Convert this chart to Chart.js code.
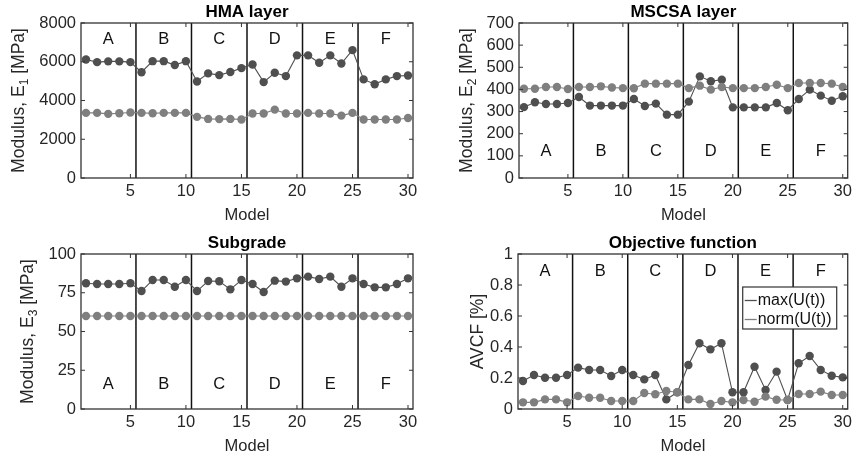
<!DOCTYPE html>
<html><head><meta charset="utf-8">
<script src="https://cdn.jsdelivr.net/npm/chart.js@4/dist/chart.umd.min.js"></script>
<style>
html,body{margin:0;padding:0;background:#fff;width:856px;height:461px;overflow:hidden}
.p{position:absolute}
canvas{display:block}
</style></head><body>
<div class="p" style="left:0;top:0"><canvas id="c1" width="428" height="230"></canvas></div>
<div class="p" style="left:430px;top:0"><canvas id="c2" width="426" height="230"></canvas></div>
<div class="p" style="left:0;top:231px"><canvas id="c3" width="428" height="230"></canvas></div>
<div class="p" style="left:430px;top:231px"><canvas id="c4" width="426" height="230"></canvas></div>
<script>
// ---------- data ----------
const models = [1,2,3,4,5,6,7,8,9,10,11,12,13,14,15,16,17,18,19,20,21,22,23,24,25,26,27,28,29,30];
const groupLabels = ['A','B','C','D','E','F'];
const groupCenters = [3,8,13,18,23,28];
const groupBounds = [5.5,10.5,15.5,20.5,25.5];
const xTicks = [5,10,15,20,25,30];

const hmaTicks = [0,2000,4000,6000,8000];
const hmaMax  = [6120,5980,6020,6020,5980,5460,6030,6030,5830,6030,4980,5400,5310,5470,5670,5860,4950,5430,5260,6330,6330,5950,6330,5910,6600,5090,4840,5090,5260,5290];
const hmaNorm = [3360,3360,3310,3340,3380,3360,3340,3360,3360,3360,3155,3050,3040,3050,3020,3330,3330,3530,3330,3330,3360,3330,3330,3220,3360,3020,3020,3020,3020,3100];

const mscsaTicks = [0,100,200,300,400,500,600,700];
const mscsaMax  = [320,342,334,334,339,366,327,327,327,327,357,325,336,286,286,345,459,437,444,319,319,319,319,339,306,357,399,372,349,369];
const mscsaNorm = [403,403,411,411,402,411,411,414,409,406,405,426,426,426,426,406,417,399,411,406,406,406,411,421,406,429,429,429,426,411];

const subTicks = [0,25,50,75,100];
const subMax  = [81.1,80.6,80.6,80.6,81.1,76.1,83.2,83.2,78.9,83.2,76.1,82.6,82.4,77.2,83.2,80.6,75.5,82.8,82.2,84.3,85.4,83.9,85.4,78.9,84.3,80.6,78.5,78.5,80.6,84.3];
const subNorm = [60,60,60,60,60,60,60,60,60,60,60,60,60,60,60,60,60,60,60,60,60,60,60,60,60,60,60,60,60,60];

const avcfTicks = [0,0.2,0.4,0.6,0.8,1];
const avcfMax  = [0.181,0.219,0.202,0.202,0.219,0.267,0.252,0.252,0.213,0.252,0.219,0.191,0.219,0.062,0.108,0.284,0.424,0.385,0.424,0.108,0.108,0.273,0.123,0.241,0.058,0.295,0.342,0.252,0.215,0.204];
const avcfNorm = [0.043,0.043,0.062,0.062,0.043,0.084,0.073,0.073,0.052,0.052,0.052,0.103,0.095,0.116,0.108,0.062,0.062,0.032,0.052,0.043,0.058,0.047,0.080,0.060,0.058,0.097,0.097,0.112,0.090,0.090];

const seriesNames = ['max(U(t))','norm(U(t))'];

// ---------- styles ----------
const FONT = '"Liberation Sans", Arial, Helvetica, sans-serif';
const TXT = '#262626';
const DARK = '#4f4f4f';
const LIGHT = '#7f7f7f';

const deco = {
  id: 'deco',
  beforeDatasetsDraw(chart, args, o) {
    const {ctx, chartArea: a, scales: {x, y}} = chart;
    ctx.save();
    ctx.strokeStyle = '#111';
    ctx.lineWidth = 1.5;
    groupBounds.forEach(b => {
      const px = x.getPixelForValue(b);
      ctx.beginPath(); ctx.moveTo(px, a.top); ctx.lineTo(px, a.bottom); ctx.stroke();
    });
    ctx.fillStyle = '#111';
    ctx.font = '16.5px ' + FONT;
    ctx.textAlign = 'center'; ctx.textBaseline = 'middle';
    groupLabels.forEach((g, i) => ctx.fillText(g, x.getPixelForValue(groupCenters[i]), y.getPixelForValue(o.labelY)));
    ctx.restore();
  },
  afterDraw(chart, args, o) {
    const {ctx, chartArea: a, scales: {x, y}} = chart;
    ctx.save();
    // box
    ctx.strokeStyle = '#333'; ctx.lineWidth = 1.3;
    ctx.strokeRect(a.left, a.top, a.right - a.left, a.bottom - a.top);
    // inner ticks
    ctx.lineWidth = 1;
    const tl = 4;
    xTicks.forEach(v => {
      const px = x.getPixelForValue(v);
      ctx.beginPath();
      ctx.moveTo(px, a.bottom); ctx.lineTo(px, a.bottom - tl);
      ctx.moveTo(px, a.top); ctx.lineTo(px, a.top + tl);
      ctx.stroke();
    });
    o.yTicks.forEach(v => {
      const py = y.getPixelForValue(v);
      ctx.beginPath();
      ctx.moveTo(a.left, py); ctx.lineTo(a.left + tl, py);
      ctx.moveTo(a.right, py); ctx.lineTo(a.right - tl, py);
      ctx.stroke();
    });
    // title
    ctx.fillStyle = '#000';
    ctx.font = 'bold 17px ' + FONT;
    ctx.textAlign = 'center'; ctx.textBaseline = 'middle';
    ctx.fillText(o.title, (a.left + a.right) / 2, a.top - 10.5);
    // y title with optional subscript
    ctx.fillStyle = TXT;
    ctx.translate(o.yTitleX, (a.top + a.bottom) / 2);
    ctx.rotate(-Math.PI / 2);
    ctx.textAlign = 'left'; ctx.textBaseline = 'middle';
    const mainF = '17.5px ' + FONT, subF = '12px ' + FONT;
    ctx.font = mainF; const w1 = ctx.measureText(o.yTitle[0]).width;
    ctx.font = subF; const w2 = o.yTitle[1] ? ctx.measureText(o.yTitle[1]).width : 0;
    ctx.font = mainF; const w3 = o.yTitle[2] ? ctx.measureText(o.yTitle[2]).width : 0;
    let sx = -(w1 + w2 + w3) / 2;
    ctx.fillText(o.yTitle[0], sx, 0); sx += w1;
    if (o.yTitle[1]) { ctx.font = subF; ctx.fillText(o.yTitle[1], sx, 5.5); sx += w2; }
    if (o.yTitle[2]) { ctx.font = mainF; ctx.fillText(o.yTitle[2], sx, 0); }
    ctx.restore();
    // legend
    if (o.legend) {
      ctx.save();
      const bw = 94, bh = 42;
      const bx = a.right - 11 - bw, by = a.top + 33;
      ctx.fillStyle = '#fff'; ctx.fillRect(bx, by, bw, bh);
      ctx.strokeStyle = '#333'; ctx.lineWidth = 1.2; ctx.strokeRect(bx, by, bw, bh);
      ctx.font = '16px ' + FONT; ctx.textAlign = 'left'; ctx.textBaseline = 'middle';
      chart.data.datasets.forEach((ds, i) => {
        const ly = by + 13.5 + i * 19;
        ctx.strokeStyle = ds.borderColor; ctx.lineWidth = 1.3;
        ctx.beginPath(); ctx.moveTo(bx + 2, ly); ctx.lineTo(bx + 14, ly); ctx.stroke();
        ctx.fillStyle = '#111';
        ctx.fillText(ds.label, bx + 15, ly + 0.5);
      });
      ctx.restore();
    }
  }
};

function makePanel(id, p) {
  const font = {family: FONT, size: 16.5};
  return new Chart(document.getElementById(id), {
    type: 'line',
    data: {datasets: [
      {label: seriesNames[0], data: models.map((m, i) => ({x: m, y: p.a[i]})), borderColor: DARK, backgroundColor: DARK,
       pointBackgroundColor: DARK, pointRadius: 4.2, pointBorderWidth: 0, borderWidth: 1.1, order: 1},
      {label: seriesNames[1], data: models.map((m, i) => ({x: m, y: p.b[i]})), borderColor: LIGHT, backgroundColor: LIGHT,
       pointBackgroundColor: LIGHT, pointRadius: 4.2, pointBorderWidth: 0, borderWidth: 1.1, order: 0}
    ]},
    options: {
      responsive: false, animation: false, devicePixelRatio: 1,
      events: [],
      layout: {padding: {left: 0, top: 23, right: p.padRight, bottom: 0}},
      plugins: {
        legend: {display: false}, tooltip: {enabled: false}, title: {display: false},
        deco: {labelY: p.labelY, yTicks: p.yTicks, title: p.title, yTitle: p.yTitle, yTitleX: p.yTitleX, legend: !!p.legend}
      },
      scales: {
        x: {
          type: 'linear', min: 0.55, max: 30.45,
          afterBuildTicks: s => { s.ticks = xTicks.map(v => ({value: v})); },
          afterFit: s => { s.height = 52; },
          grid: {display: false, drawTicks: false}, border: {display: false},
          ticks: {padding: 4, font, color: TXT, maxRotation: 0, autoSkip: false, callback: v => String(v)},
          title: {display: true, text: 'Model', font, color: TXT, padding: {top: 0, bottom: 5}}
        },
        y: {
          type: 'linear', min: p.yTicks[0], max: p.yTicks[p.yTicks.length - 1],
          afterBuildTicks: s => { s.ticks = p.yTicks.map(v => ({value: v})); },
          afterFit: s => { s.width = p.yWidth; },
          grid: {display: false, drawTicks: false}, border: {display: false},
          ticks: {padding: 5, font, color: TXT, autoSkip: false, callback: v => String(v)},
          title: {display: false}
        }
      }
    },
    plugins: [deco]
  });
}

makePanel('c1', {a: hmaMax, b: hmaNorm, yTicks: hmaTicks, title: 'HMA layer', yTitle: ['Modulus, E', '1', ' [MPa]'],
  yTitleX: 19, yWidth: 81, padRight: 15, labelY: 7150});
makePanel('c2', {a: mscsaMax, b: mscsaNorm, yTicks: mscsaTicks, title: 'MSCSA layer', yTitle: ['Modulus, E', '2', ' [MPa]'],
  yTitleX: 37, yWidth: 89, padRight: 5, labelY: 120});
makePanel('c3', {a: subMax, b: subNorm, yTicks: subTicks, title: 'Subgrade', yTitle: ['Modulus, E', '3', ' [MPa]'],
  yTitleX: 28, yWidth: 81, padRight: 15, labelY: 16});
makePanel('c4', {a: avcfMax, b: avcfNorm, yTicks: avcfTicks, title: 'Objective function', yTitle: ['AVCF [%]'],
  yTitleX: 48, yWidth: 88, padRight: 5, labelY: 0.885, legend: true});
</script>
</body></html>
